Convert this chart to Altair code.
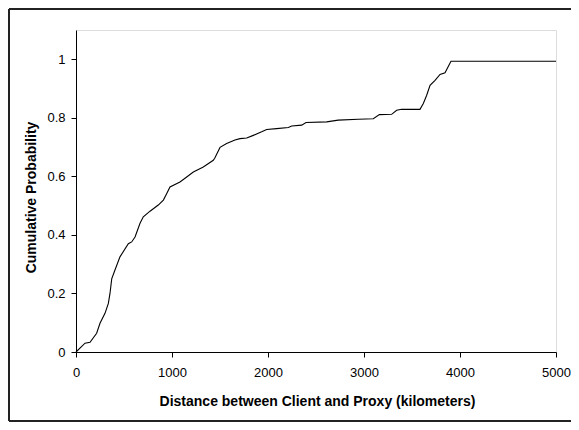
import altair as alt
import pandas as pd

# CDF of distance between client and proxy (km)
distance_km = [0, 94, 146, 215, 250, 302, 337, 354, 372, 406, 458, 545, 580, 615, 667, 701,
               771, 857, 910, 944, 979, 1083, 1153, 1222, 1326, 1430, 1445, 1500, 1569, 1656,
               1708, 1778, 1847, 1934, 1986, 2090, 2212, 2247, 2351, 2396, 2611, 2732, 2940,
               3097, 3160, 3288, 3340, 3392, 3583, 3618, 3653, 3688, 3740, 3792, 3844, 3906, 5000]
cum_prob = [0, 0.03, 0.033, 0.064, 0.098, 0.132, 0.166, 0.2, 0.25, 0.28, 0.325, 0.37, 0.376,
            0.393, 0.44, 0.462, 0.481, 0.502, 0.519, 0.541, 0.564, 0.581, 0.598, 0.615, 0.632,
            0.655, 0.662, 0.699, 0.712, 0.724, 0.729, 0.731, 0.74, 0.752, 0.76, 0.763, 0.767,
            0.772, 0.775, 0.784, 0.786, 0.792, 0.795, 0.797, 0.811, 0.812, 0.826, 0.829, 0.829,
            0.849, 0.877, 0.911, 0.928, 0.948, 0.954, 0.993, 0.993]

x_ticks = [0, 1000, 2000, 3000, 4000, 5000]
y_ticks = [0, 0.2, 0.4, 0.6, 0.8, 1.0]

df = pd.DataFrame({"dist": distance_km, "p": cum_prob, "order": list(range(len(distance_km)))})

FONT = "Liberation Sans"

line = alt.Chart(df).mark_line(color="black", strokeWidth=1.1).encode(
    x=alt.X("dist:Q",
            scale=alt.Scale(domain=[0, 5000], nice=False, zero=False),
            axis=alt.Axis(values=x_ticks, format="d", grid=False, labelFlush=False,
                          title="Distance between Client and Proxy (kilometers)",
                          domainColor="black", tickColor="black", tickSize=5,
                          labelPadding=9, labelFontSize=13, labelFont=FONT, labelColor="black",
                          titleFont=FONT, titleFontSize=14, titleFontWeight="bold", titleColor="black",
                          titleBaseline="middle", titleY=49, titleX=241)),
    y=alt.Y("p:Q",
            scale=alt.Scale(domain=[0, 1.1], nice=False, zero=False),
            axis=alt.Axis(values=y_ticks, format="~g", grid=False, labelFlush=False,
                          title="Cumulative Probability",
                          domainColor="black", tickColor="black", tickSize=5,
                          labelPadding=6, labelFontSize=13, labelFont=FONT, labelColor="black",
                          titleFont=FONT, titleFontSize=14, titleFontWeight="bold", titleColor="black",
                          titleBaseline="middle", titleX=-45, titleY=167)),
    order="order:Q",
)

# outer frame around the whole figure
frame_color = "#222222"
top = alt.Chart(df).mark_rule(color=frame_color, strokeWidth=2).encode(
    x=alt.value(-67), x2=alt.value(495), y=alt.value(-21))
left = alt.Chart(df).mark_rule(color=frame_color, strokeWidth=2).encode(
    x=alt.value(-67), y=alt.value(-21), y2=alt.value(391))
bottom = alt.Chart(df).mark_rule(color=frame_color, strokeWidth=2).encode(
    x=alt.value(-67), x2=alt.value(495), y=alt.value(391))

chart = alt.layer(line, top, left, bottom).properties(
    width=480, height=322,
    autosize=alt.AutoSizeParams(type="none"),
    padding={"left": 68, "top": 22, "right": 15, "bottom": 70},
).configure_view(stroke="#999999", strokeWidth=1.5).configure(background="white")

chart.save("out.html", embed_options={"renderer": "svg", "actions": False})
